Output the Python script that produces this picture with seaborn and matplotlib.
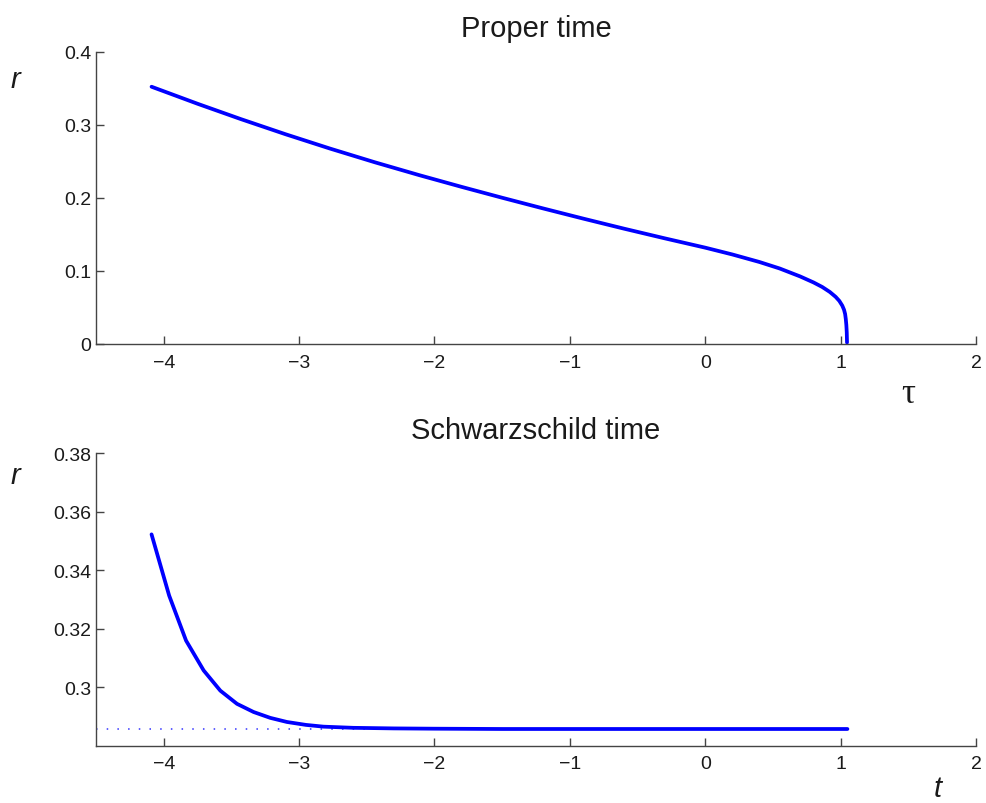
import numpy as np
import pandas as pd
import matplotlib
matplotlib.use("Agg")
import matplotlib.pyplot as plt
import seaborn as sns

# Radius of the infalling shell against proper time tau
tau = [-4.09, -3.75, -3.43, -3.10, -2.77, -2.44, -2.11, -1.80, -1.50, -1.20,
       -0.90, -0.60, -0.30, 0.00, 0.20, 0.40, 0.55, 0.70, 0.80, 0.864,
       0.92, 0.963, 0.99, 1.012, 1.025, 1.033, 1.038, 1.042, 1.045, 1.047]
r_tau = [0.352, 0.3287, 0.3077, 0.2870, 0.2673, 0.2486, 0.2309, 0.2150,
         0.2001, 0.1856, 0.1715, 0.1578, 0.1446, 0.1318, 0.1225, 0.1122,
         0.1033, 0.0925, 0.0842, 0.0780, 0.0712, 0.0645, 0.0590, 0.0525,
         0.0468, 0.0410, 0.0340, 0.0260, 0.0160, 0.0020]

# Radius against Schwarzschild coordinate time t
t = [-4.09, -3.96, -3.835, -3.705, -3.582, -3.459, -3.336, -3.213, -3.09,
     -2.95, -2.82, -2.6, -2.3, -2.0, -1.5, -1.0, 0.0, 1.05]
r_t = [0.3522, 0.3313, 0.3159, 0.3057, 0.2988, 0.2943, 0.2915, 0.2895, 0.2881,
       0.2871, 0.2865, 0.2861, 0.2859, 0.2858, 0.2857, 0.2857, 0.2857, 0.2857]

# Horizon radius (asymptote of r(t))
r_horizon = 0.2857
horizon_t = [-4.5, 1.05]

x_ticks = [-4, -3, -2, -1, 0, 1, 2]
x_ticklabels = ["\u22124", "\u22123", "\u22122", "\u22121", "0", "1", "2"]
y_ticks_top = [0, 0.1, 0.2, 0.3, 0.4]
y_ticklabels_top = ["0", "0.1", "0.2", "0.3", "0.4"]
y_ticks_bot = [0.3, 0.32, 0.34, 0.36, 0.38]
y_ticklabels_bot = ["0.3", "0.32", "0.34", "0.36", "0.38"]

sns.set_style("ticks")
plt.rcParams["font.family"] = ["Liberation Sans", "DejaVu Sans"]

fig = plt.figure(figsize=(9.86, 8.04), dpi=100)
ax1 = fig.add_axes([0.0974, 0.5709, 0.8925, 0.3636])
ax2 = fig.add_axes([0.0974, 0.0713, 0.8925, 0.3640])

df_tau = pd.DataFrame({"tau": tau, "r": r_tau})
df_t = pd.DataFrame({"t": t, "r": r_t})
df_h = pd.DataFrame({"t": horizon_t, "r": [r_horizon] * len(horizon_t)})

line_col = (0, 0, 1)
sns.lineplot(data=df_tau, x="tau", y="r", ax=ax1, color=line_col,
             linewidth=2.7, sort=False, estimator=None)
sns.lineplot(data=df_h, x="t", y="r", ax=ax2, color=(0.2, 0.2, 1.0),
             linewidth=1.1, linestyle=(0, (1, 6)), sort=False, estimator=None)
sns.lineplot(data=df_t, x="t", y="r", ax=ax2, color=line_col,
             linewidth=2.7, sort=False, estimator=None)

spine_col = "#444444"
for ax, yt, ytl, ylim in [(ax1, y_ticks_top, y_ticklabels_top, (0, 0.4)),
                          (ax2, y_ticks_bot, y_ticklabels_bot, (0.28, 0.38))]:
    ax.set_xlim(-4.5, 2)
    ax.set_ylim(*ylim)
    ax.set_xticks(x_ticks)
    ax.set_xticklabels(x_ticklabels)
    ax.set_yticks(yt)
    ax.set_yticklabels(ytl)
    ax.set_xlabel("")
    ax.set_ylabel("")
    for s in ["top", "right"]:
        ax.spines[s].set_visible(False)
    for s in ["left", "bottom"]:
        ax.spines[s].set_color(spine_col)
        ax.spines[s].set_linewidth(1.0)
    ax.tick_params(direction="in", length=6, width=1.0, color=spine_col,
                   labelsize=14, labelcolor="#1a1a1a")
    ax.tick_params(axis="y", pad=3.5)
    ax.tick_params(axis="x", pad=7)

ax1.set_title("Proper time", fontsize=21, color="#1a1a1a", pad=11)
ax2.set_title("Schwarzschild time", fontsize=21, color="#1a1a1a", pad=11)

ax1.text(-0.092, 0.907, "r", transform=ax1.transAxes, fontsize=21,
         style="italic", ha="center", va="center", color="#1a1a1a")
ax1.text(0.923, -0.17, "\u03c4", transform=ax1.transAxes, fontsize=25,
         family=["Liberation Serif", "DejaVu Serif"], ha="center", va="center",
         color="#1a1a1a")
ax2.text(-0.092, 0.925, "r", transform=ax2.transAxes, fontsize=21,
         style="italic", ha="center", va="center", color="#1a1a1a")
ax2.text(0.957, -0.145, "t", transform=ax2.transAxes, fontsize=21,
         style="italic", ha="center", va="center", color="#1a1a1a")

fig.savefig("out.png", dpi=100, facecolor="white")
